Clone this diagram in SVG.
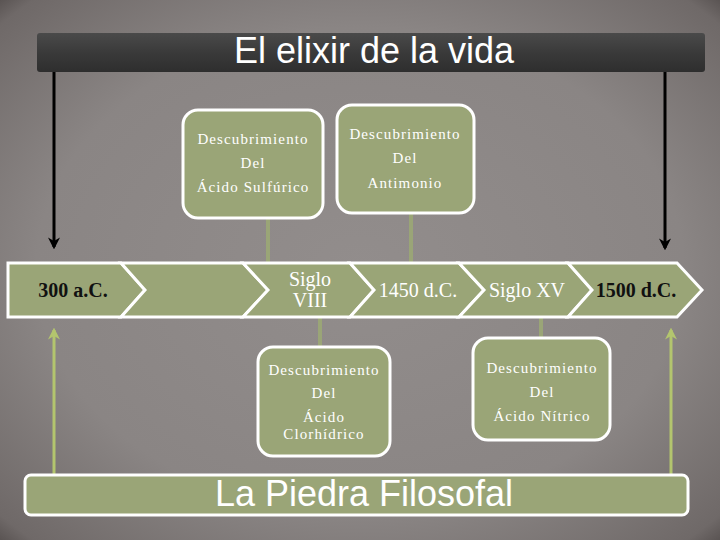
<svg xmlns="http://www.w3.org/2000/svg" width="720" height="540" viewBox="0 0 720 540">
<defs>
<radialGradient id="bg" cx="50%" cy="50%" r="75%">
<stop offset="0" stop-color="#928d8c"/>
<stop offset="0.6" stop-color="#8a8584"/>
<stop offset="0.9" stop-color="#6f6968"/>
<stop offset="1" stop-color="#3e3837"/>
</radialGradient>
<linearGradient id="bar" x1="0" y1="0" x2="0" y2="1">
<stop offset="0" stop-color="#4a4a4a"/>
<stop offset="0.5" stop-color="#3a3a3a"/>
<stop offset="1" stop-color="#2e2e2e"/>
</linearGradient>
<marker id="ab" viewBox="0 0 10 10" refX="8" refY="5" markerWidth="4" markerHeight="4" orient="auto" markerUnits="strokeWidth">
<path d="M0,0 L10,5 L0,10 L3,5 Z" fill="#000"/>
</marker>
<marker id="ag" viewBox="0 0 10 10" refX="8" refY="5" markerWidth="4" markerHeight="4" orient="auto" markerUnits="strokeWidth">
<path d="M0,0 L10,5 L0,10 L3,5 Z" fill="#b3c56e"/>
</marker>
</defs>
<style>
.box{fill:#9aa577;stroke:#ffffff;stroke-width:3}
.chev{fill:#9aa577;stroke:#ffffff;stroke-width:3;stroke-linejoin:miter}
.t{font-family:"Liberation Serif","DejaVu Serif",serif;font-size:15px;letter-spacing:1.1px;fill:#ffffff;text-anchor:middle}
.tl{font-family:"Liberation Serif","DejaVu Serif",serif;font-size:20px;text-anchor:middle}
.dk{fill:#111;font-weight:bold}
.con{stroke:#9aa577;stroke-width:4;fill:none}
</style>
<rect x="0" y="0" width="720" height="540" fill="url(#bg)"/>

<g id="title">
<rect x="37" y="33" width="668" height="39" rx="3" fill="url(#bar)"/>
<text x="374" y="63" font-family="'Liberation Sans',Arial,sans-serif" font-size="36" fill="#ffffff" text-anchor="middle">El elixir de la vida</text>
</g>

<g id="connectors">
<line x1="54" y1="72" x2="54" y2="247" stroke="#000" stroke-width="3" marker-end="url(#ab)"/>
<line x1="665" y1="72" x2="665" y2="248" stroke="#000" stroke-width="3" marker-end="url(#ab)"/>
<line x1="54" y1="475" x2="54" y2="330" stroke="#b3c56e" stroke-width="3" marker-end="url(#ag)"/>
<line x1="671" y1="475" x2="671" y2="330" stroke="#b3c56e" stroke-width="3" marker-end="url(#ag)"/>
<line class="con" x1="268" y1="218" x2="268" y2="263"/>
<line class="con" x1="411" y1="213" x2="411" y2="263"/>
<line class="con" x1="320" y1="317" x2="320" y2="347"/>
<line class="con" x1="541" y1="317" x2="541" y2="338"/>
</g>

<g id="timeline">
<g id="t1"><path class="chev" d="M8,263 L121,263 L145,290 L121,317 L8,317 Z"/>
<text class="tl dk" x="73" y="297">300 a.C.</text></g>
<g id="t2"><path class="chev" d="M121,263 L243,263 L268,290 L243,317 L121,317 L145,290 Z"/></g>
<g id="t3"><path class="chev" d="M243,263 L350,263 L374,290 L350,317 L243,317 L268,290 Z"/>
<text class="tl" x="310" y="286" fill="#fff">Siglo</text>
<text class="tl" x="310" y="307" fill="#fff">VIII</text></g>
<g id="t4"><path class="chev" d="M350,263 L459,263 L484,290 L459,317 L350,317 L374,290 Z"/>
<text class="tl" x="418" y="297" fill="#fff">1450 d.C.</text></g>
<g id="t5"><path class="chev" d="M459,263 L568,263 L592,290 L568,317 L459,317 L484,290 Z"/>
<text class="tl" x="527" y="297" fill="#fff">Siglo XV</text></g>
<g id="t6"><path class="chev" d="M568,263 L677,263 L702,290 L677,317 L568,317 L592,290 Z"/>
<text class="tl dk" x="636" y="297">1500 d.C.</text></g>
</g>

<g id="boxA">
<rect class="box" x="183" y="110" width="140" height="108" rx="15"/>
<text class="t" x="253" y="144">Descubrimiento</text>
<text class="t" x="253" y="168">Del</text>
<text class="t" x="253" y="192">Ácido Sulfúrico</text>
</g>
<g id="boxB">
<rect class="box" x="337" y="105" width="137" height="108" rx="15"/>
<text class="t" x="405" y="139">Descubrimiento</text>
<text class="t" x="405" y="163">Del</text>
<text class="t" x="405" y="188">Antimonio</text>
</g>
<g id="boxC">
<rect class="box" x="258" y="347" width="132" height="109" rx="15"/>
<text class="t" x="324" y="375">Descubrimiento</text>
<text class="t" x="324" y="398">Del</text>
<text class="t" x="324" y="422">Ácido</text>
<text class="t" x="324" y="439">Clorhídrico</text>
</g>
<g id="boxD">
<rect class="box" x="473" y="338" width="137" height="102" rx="15"/>
<text class="t" x="542" y="373">Descubrimiento</text>
<text class="t" x="542" y="397">Del</text>
<text class="t" x="542" y="421">Ácido Nítrico</text>
</g>

<g id="piedra">
<rect class="box" x="25" y="475" width="663" height="40" rx="6"/>
<text x="364" y="506" font-family="'Liberation Sans',Arial,sans-serif" font-size="36" fill="#ffffff" text-anchor="middle">La Piedra Filosofal</text>
</g>
</svg>
